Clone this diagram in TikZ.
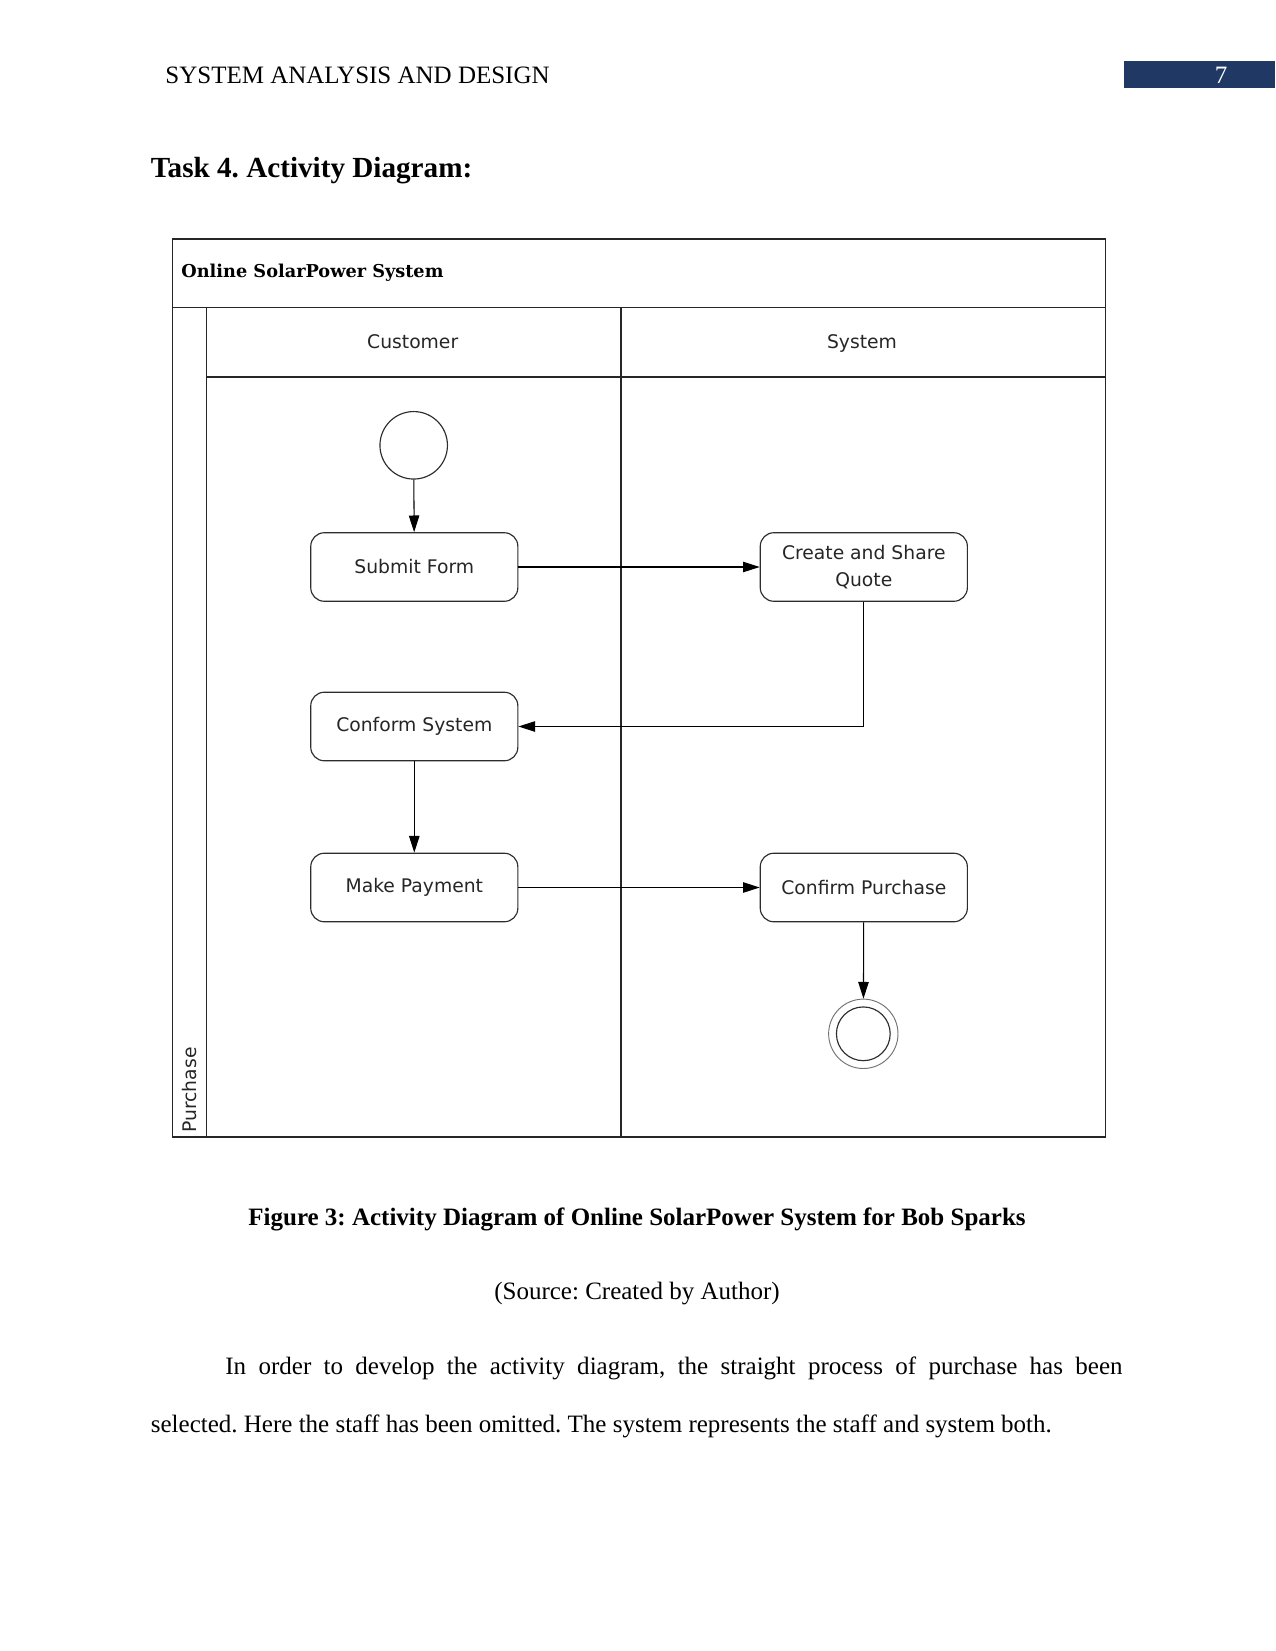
\documentclass[tikz,border=0pt]{standalone}
\usepackage{fontspec}
\setmainfont{Liberation Serif}
\newfontfamily\diagsans{DejaVu Sans}
\newfontfamily\diagserif{DejaVu Serif}
\usetikzlibrary{arrows.meta}
\definecolor{hdrblue}{RGB}{31,56,100}
\definecolor{lineg}{RGB}{45,45,45}
\frenchspacing
\begin{document}
\begin{tikzpicture}[x=0.48pt,y=-0.48pt,
  act/.style={draw=lineg, line width=0.55pt, rounded corners=6.5pt, minimum width=99.4pt, minimum height=32.9pt, align=center, font=\diagsans\fontsize{9}{13}\selectfont, text=black!85, inner sep=1pt},
  flow/.style={draw=black, line width=0.5pt, -{Triangle[length=8pt,width=5pt]}},
  frame/.style={draw=black!85, line width=0.55pt},
  lanelabel/.style={font=\diagsans\fontsize{9}{11}\selectfont, text=black!85, inner sep=0pt},
  bodytext/.style={font=\fontsize{12}{14}\selectfont, inner sep=0pt}
]
\useasboundingbox (0,0) rectangle (1275,1651);
\fill[white] (0,0) rectangle (1275,1651);

% page header
\node[bodytext, anchor=base west] (hdr) at (165,84) {SYSTEM ANALYSIS AND DESIGN};
\fill[hdrblue] (1124,61) rectangle (1275,88);
\node[bodytext, anchor=base, text=white] (pnum) at (1221,84) {7};

\node[font=\bfseries\fontsize{14}{16}\selectfont, inner sep=0pt, anchor=base west] (task) at (150.5,178) {Task 4. Activity Diagram:};

% frame
\draw[frame] (172.7,239) rectangle (1105.4,1137);
\draw[frame] (172.7,307.4) -- (1105.4,307.4);
\draw[frame] (206.3,307.4) -- (206.3,1137);
\draw[frame] (621,307.4) -- (621,1137);
\draw[frame] (206.3,377) -- (1105.4,377);

\node[font=\diagserif\bfseries\fontsize{8.5}{10}\selectfont, inner sep=0pt, anchor=west] (title) at (181,273) {Online SolarPower System};
\node[lanelabel, anchor=base] (cust) at (412.7,348.4) {Customer};
\node[lanelabel, anchor=base] (sys) at (862,348.4) {System};
\node[lanelabel, rotate=90, anchor=west] (purch) at (189.5,1133) {Purchase};

% activity nodes
\node[draw=lineg, line width=0.55pt, circle, minimum size=32.4pt, inner sep=0pt] (start) at (413.7,445.3) {};
\node[act] (submit) at (414.3,567) {Submit Form};
\node[act] (quote) at (863.8,567) {Create and Share\\Quote};
\node[act] (conform) at (414.3,726.5) {Conform System};
\node[act] (pay) at (414.3,887.5) {Make Payment};
\node[act] (confirm) at (863.8,887.5) {Confirm Purchase};
\node[draw=black!55, line width=0.45pt, circle, minimum size=33.3pt, inner sep=0pt] (final) at (863.3,1033.8) {};
\draw[draw=lineg, line width=0.55pt] (final.center) circle[radius=12.9pt];

% flows
\draw[flow] (start) -- (submit);
\draw[flow] (submit) -- (quote);
\draw[flow] (quote.south) |- (conform.east);
\draw[flow] (conform) -- (pay);
\draw[flow] (pay) -- (confirm);
\draw[flow] (confirm) -- (final);

% caption and body text
\node[font=\bfseries\fontsize{12}{14}\selectfont, inner sep=0pt, anchor=base] (cap) at (637,1225) {Figure 3: Activity Diagram of Online SolarPower System for Bob Sparks};
\node[bodytext, anchor=base] (src) at (637,1299) {(Source: Created by Author)};
\node[bodytext, anchor=base west] (para1) at (225,1374.5) {\makebox[430.6pt][s]{In order to develop the activity diagram, the straight process of purchase has been}};
\node[bodytext, anchor=base west] (para2) at (150.5,1432) {selected. Here the staff has been omitted. The system represents the staff and system both.};
\end{tikzpicture}
\end{document}
